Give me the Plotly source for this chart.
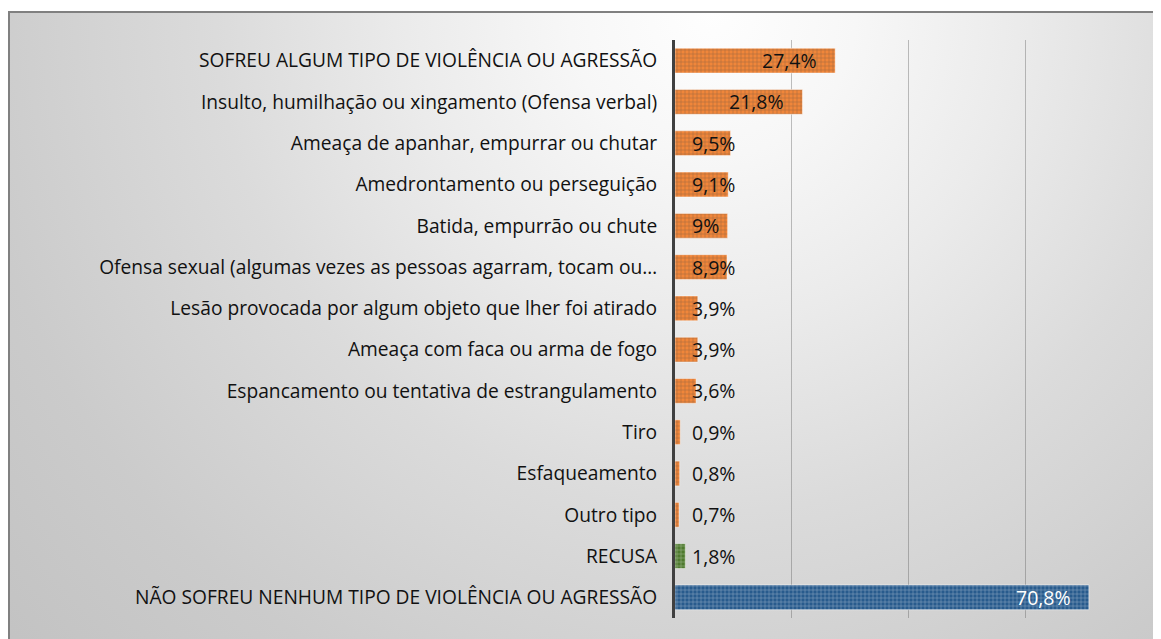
import base64
import plotly.graph_objects as go

categories = [
    "SOFREU ALGUM TIPO DE VIOLÊNCIA OU AGRESSÃO",
    "Insulto, humilhação ou xingamento (Ofensa verbal)",
    "Ameaça de apanhar, empurrar ou chutar",
    "Amedrontamento ou perseguição",
    "Batida, empurrão ou chute",
    "Ofensa sexual (algumas vezes as pessoas agarram, tocam ou…",
    "Lesão provocada por algum objeto que lher foi atirado",
    "Ameaça com faca ou arma de fogo",
    "Espancamento ou tentativa de estrangulamento",
    "Tiro",
    "Esfaqueamento",
    "Outro tipo",
    "RECUSA",
    "NÃO SOFREU NENHUM TIPO DE VIOLÊNCIA OU AGRESSÃO",
]
values = [27.4, 21.8, 9.5, 9.1, 9.0, 8.9, 3.9, 3.9, 3.6, 0.9, 0.8, 0.7, 1.8, 70.8]
labels = ["27,4%", "21,8%", "9,5%", "9,1%", "9%", "8,9%", "3,9%", "3,9%", "3,6%",
          "0,9%", "0,8%", "0,7%", "1,8%", "70,8%"]
groups = ["sim"] * 12 + ["recusa", "nao"]
group_colors = {"sim": "#F0863A", "recusa": "#4E7A2E", "nao": "#285B8D"}
group_pattern = {"sim": "rgba(255,210,175,0.6)", "recusa": "rgba(190,220,170,0.45)",
                 "nao": "rgba(170,200,235,0.45)"}
grid_ticks = [20, 40, 60, 80]

FONT = "Open Sans"

svg = """<svg xmlns='http://www.w3.org/2000/svg' width='1160' height='640' viewBox='0 0 1160 640'>
<defs><radialGradient id='g' gradientUnits='userSpaceOnUse' cx='700' cy='0' r='950'>
<stop offset='0' stop-color='#fefefe'/>
<stop offset='0.15' stop-color='#f7f7f7'/>
<stop offset='0.32' stop-color='#ebebeb'/>
<stop offset='0.52' stop-color='#dbdbdb'/>
<stop offset='0.78' stop-color='#cbcbcb'/>
<stop offset='1' stop-color='#c2c2c2'/>
</radialGradient></defs>
<rect x='0' y='0' width='1160' height='640' fill='url(#g)'/></svg>"""
svg_uri = "data:image/svg+xml;base64," + base64.b64encode(svg.encode()).decode()

fig = go.Figure()
fig.add_trace(go.Bar(
    y=categories,
    x=values,
    orientation="h",
    width=0.6,
    marker=dict(
        color=[group_colors[g] for g in groups],
        line=dict(color="rgba(255,255,255,0.45)", width=1),
        pattern=dict(shape="+", fgcolor=[group_pattern[g] for g in groups],
                     size=4, solidity=0.22),
    ),
    hoverinfo="skip",
    showlegend=False,
))

annotations = []
for cat, v, lab, g in zip(categories, values, labels, groups):
    big = v >= 13
    annotations.append(dict(
        x=v if big else 0, y=cat, xref="x", yref="y",
        text=lab, showarrow=False,
        xanchor="right" if big else "left",
        xshift=-16 if big else 15,
        font=dict(family=FONT, size=19.5, color="white" if g == "nao" else "#111111"),
    ))

# page has an 8px body margin: figure origin sits at page (8, 8)
OFF = 8
W, H = 1161 - OFF, 639 - OFF
l, r, t, b = 675 - OFF, 18, 40 - OFF, 21
pw, ph = W - l - r, H - t - b


def px2x(px):
    return (px - OFF - l) / pw


def px2y(py):
    return (H - b - (py - OFF)) / ph


fig.update_layout(
    width=W, height=H,
    margin=dict(l=l, r=r, t=t, b=b, pad=0),
    paper_bgcolor="white",
    plot_bgcolor="rgba(0,0,0,0)",
    bargap=0.4,
    annotations=annotations,
    images=[dict(
        source=svg_uri, xref="paper", yref="paper",
        x=px2x(8), y=px2y(12), sizex=px2x(1175) - px2x(8), sizey=px2y(12) - px2y(660),
        xanchor="left", yanchor="top", sizing="stretch", layer="below",
    )],
    shapes=[dict(
        type="rect", xref="paper", yref="paper",
        x0=px2x(9), x1=px2x(1180), y0=px2y(670), y1=px2y(12),
        line=dict(color="#808080", width=2), fillcolor="rgba(0,0,0,0)", layer="below",
    )],
    xaxis=dict(
        range=[0, 80.05], tickvals=grid_ticks, showticklabels=False,
        showgrid=True, gridcolor="rgba(90,90,90,0.38)", gridwidth=1,
        zeroline=False, showline=False, fixedrange=True,
    ),
    yaxis=dict(
        autorange="reversed", showline=True, linecolor="#404040", linewidth=3,
        ticks="", ticklabelstandoff=11, showgrid=False,
        tickfont=dict(family=FONT, size=19.2, color="#111111"),
    ),
)

fig.write_html("out.html")
